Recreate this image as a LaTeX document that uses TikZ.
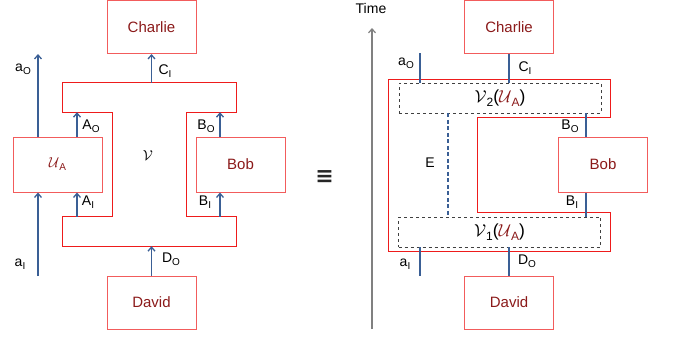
\documentclass[tikz,border=0pt]{standalone}
\usepackage{fontspec}
\setmainfont{Liberation Sans}
\newfontfamily\symfont{DejaVu Sans}
\usetikzlibrary{arrows.meta}
\definecolor{boxred}{HTML}{F25C5C}
\definecolor{combred}{HTML}{EE1B1B}
\definecolor{txtred}{HTML}{8B1A1A}
\definecolor{wire}{HTML}{3A5F95}
\newcommand\sublab[2]{#1\raisebox{-3pt}{\fontsize{10}{12}\selectfont #2}}
\newcommand\UA{{\color{txtred}$\mathcal{U}$\raisebox{-3pt}{\fontsize{10}{12}\selectfont A}}}
\newcommand\UAbig{{\color{txtred}$\mathcal{U}$\raisebox{-3.5pt}{\fontsize{12}{14}\selectfont A}}}
\begin{document}
\begin{tikzpicture}[x=1pt,y=-1pt,
  party/.style={draw=boxred, line width=1pt, minimum width=89pt, minimum height=53pt, inner sep=0pt, font=\fontsize{15}{18}\selectfont, text=txtred},
  bar/.style={inner sep=0pt, minimum width=173pt, minimum height=29pt},
  dbox/.style={draw=black!75, dashed, line width=0.8pt, minimum width=202pt, minimum height=30pt, inner sep=0pt, font=\fontsize{17.5}{20}\selectfont},
  comb/.style={draw=combred, line width=1pt},
  wirearrow/.style={draw=wire, line width=1.3pt, -{Straight Barb[length=4pt,width=7pt]}},
  wireline/.style={draw=wire, line width=1.3pt},
  lab/.style={font=\fontsize{14}{17}\selectfont, inner sep=0pt},
  timeaxis/.style={draw=black!50, line width=1.2pt, -{Straight Barb[length=4pt,width=7pt]}}
]
\useasboundingbox (0,0) rectangle (676,338);

% ---------------- left diagram ----------------
\node[party] (C1) at (151.5,27) {Charlie};
\node[party] (D1) at (151.5,302.5) {David};
\node[party, minimum height=55pt] (UA1) at (57.5,164.5) {\UA};
\node[party, minimum height=55pt] (B1) at (240.5,164.5) {Bob};
\node[bar] (vtop) at (149.5,97.5) {};
\node[bar] (vbot) at (149.5,231.5) {};
\coordinate (legL) at (112,0);
\coordinate (legR) at (186,0);
\draw[comb] (vtop.north west) -- (vtop.north east) -- (vtop.south east) -- (vtop.south -| legR)
  -- (vbot.north -| legR) -- (vbot.north east) -- (vbot.south east) -- (vbot.south west)
  -- (vbot.north west) -- (vbot.north -| legL) -- (vtop.south -| legL) -- (vtop.south west) -- cycle;

\coordinate (xa) at (38,0);
\coordinate (xA) at (77,0);
\coordinate (xB) at (220,0);
\coordinate (aOend) at (38,54);
\coordinate (aIstart) at (38,276);

\draw[wirearrow] (UA1.north -| xa) -- (aOend);
\draw[wirearrow] (aIstart) -- (UA1.south -| xa);
\draw[wirearrow] (UA1.north -| xA) -- (vtop.south -| xA);
\draw[wirearrow] (vbot.north -| xA) -- (UA1.south -| xA);
\draw[wirearrow] (B1.north -| xB) -- (vtop.south -| xB);
\draw[wirearrow] (vbot.north -| xB) -- (B1.south -| xB);
\draw[wirearrow] (vtop.north -| C1.south) -- (C1.south);
\draw[wirearrow] (D1.north) -- (vbot.south -| D1.north);

\node[lab] (laO) at (23,69) {\sublab{a}{O}};
\node[lab] (lCI) at (165,71) {\sublab{C}{I}};
\node[lab] (lAO) at (91,126) {\sublab{A}{O}};
\node[lab] (lBO) at (206,126) {\sublab{B}{O}};
\node[lab] (lAI) at (88,202) {\sublab{A}{I}};
\node[lab] (lBI) at (205,202) {\sublab{B}{I}};
\node[lab] (laI) at (20,264) {\sublab{a}{I}};
\node[lab] (lDO) at (171,259) {\sublab{D}{O}};
\node[lab, font=\fontsize{15}{18}\selectfont] (lV) at (148,156) {$\mathcal{V}$};
\node[lab, font=\symfont\bfseries\fontsize{22}{26}\selectfont, text=black!85] (eq) at (324.5,177) {≡};

% ---------------- right diagram ----------------
\coordinate (tbot) at (372,329);
\coordinate (ttop) at (372,28);
\draw[timeaxis] (tbot) -- (ttop);
\node[lab] (ltime) at (371,8) {Time};

\node[party] (C2) at (509,27) {Charlie};
\node[party] (D2) at (509,302.5) {David};
\node[party, minimum height=55pt] (B2) at (603,164.5) {Bob};
\node[dbox] (V2) at (500,98) {$\mathcal{V}$\raisebox{-3.5pt}{\fontsize{12}{14}\selectfont 2}(\UAbig)};
\node[dbox] (V1) at (499.5,232) {$\mathcal{V}$\raisebox{-3.5pt}{\fontsize{12}{14}\selectfont 1}(\UAbig)};

\coordinate (o1) at (388,79);
\coordinate (o2) at (610,79);
\coordinate (o3) at (610,117);
\coordinate (o4) at (477,117);
\coordinate (o5) at (477,212);
\coordinate (o6) at (610,212);
\coordinate (o7) at (610,251);
\coordinate (o8) at (388,251);
\draw[comb] (o1) -- (o2) -- (o3) -- (o4) -- (o5) -- (o6) -- (o7) -- (o8) -- cycle;

\coordinate (ra) at (420,0);
\coordinate (rB) at (586,0);
\coordinate (rE) at (448,0);
\coordinate (raOend) at (420,53);
\coordinate (raIend) at (420,276);

\draw[wireline] (V2.north -| ra) -- (raOend);
\draw[wireline] (V2.north -| C2.south) -- (C2.south);
\draw[wireline] (V2.south -| rB) -- (B2.north -| rB);
\draw[wireline] (B2.south -| rB) -- (V1.north -| rB);
\draw[wireline, dash pattern=on 4pt off 2.5pt] (V2.south -| rE) -- (V1.north -| rE);
\draw[wireline] (V1.south -| ra) -- (raIend);
\draw[wireline] (V1.south -| D2.north) -- (D2.north);

\node[lab] (raO) at (406,63) {\sublab{a}{O}};
\node[lab] (rCI) at (525,68) {\sublab{C}{I}};
\node[lab] (rBO) at (570,126) {\sublab{B}{O}};
\node[lab] (rEl) at (430,163) {E};
\node[lab] (rBI) at (572,202) {\sublab{B}{I}};
\node[lab] (raI) at (405,264) {\sublab{a}{I}};
\node[lab] (rDO) at (527,261) {\sublab{D}{O}};
\end{tikzpicture}
\end{document}
